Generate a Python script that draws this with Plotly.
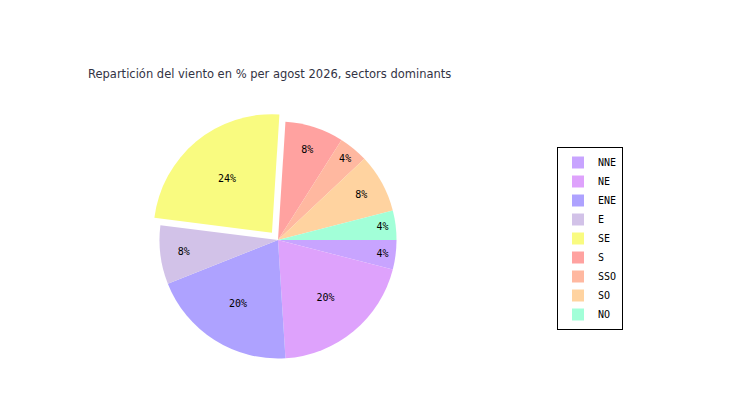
import plotly.graph_objects as go

sectors = ["NNE", "NE", "ENE", "E", "SE", "S", "SSO", "SO", "NO"]
values = [4, 20, 20, 8, 24, 8, 4, 8, 4]
colors = ["#C8A4FF", "#DEA2FC", "#AEA2FF", "#D2C2E8", "#F9FB80",
          "#FFA2A0", "#FFB8A0", "#FFD3A0", "#A2FFD8"]
pulls = [0, 0, 0, 0, 0.08, 0, 0, 0, 0]
title_text = "Repartición del viento en % per agost 2026, sectors dominants"

fig = go.Figure(go.Pie(
    labels=sectors,
    values=values,
    sort=False,
    direction="clockwise",
    rotation=90,
    pull=pulls,
    marker=dict(colors=colors, line=dict(width=0)),
    texttemplate="%{percent:.0%}",
    textposition="inside",
    insidetextorientation="horizontal",
    textfont=dict(family="DejaVu Sans Mono", size=10, color="black"),
    domain=dict(x=[0.18, 0.54], y=[0.10, 0.74]),
    hoverinfo="label+percent",
))

fig.update_layout(
    width=750, height=400,
    paper_bgcolor="white", plot_bgcolor="white",
    margin=dict(l=0, r=0, t=0, b=0),
    title=dict(text=title_text, xref="container", yref="container",
               x=80/750, xanchor="left", y=1-66/400, yanchor="middle",
               font=dict(family="DejaVu Sans", size=11.5, color="#333344")),
    legend=dict(x=549/750, y=1-139/400, xanchor="left", yanchor="top",
                bordercolor="black", borderwidth=1, bgcolor="white",
                font=dict(family="DejaVu Sans Mono", size=10, color="black"),
                tracegroupgap=0, itemwidth=30),
    showlegend=True,
)

fig.write_html("out.html")
